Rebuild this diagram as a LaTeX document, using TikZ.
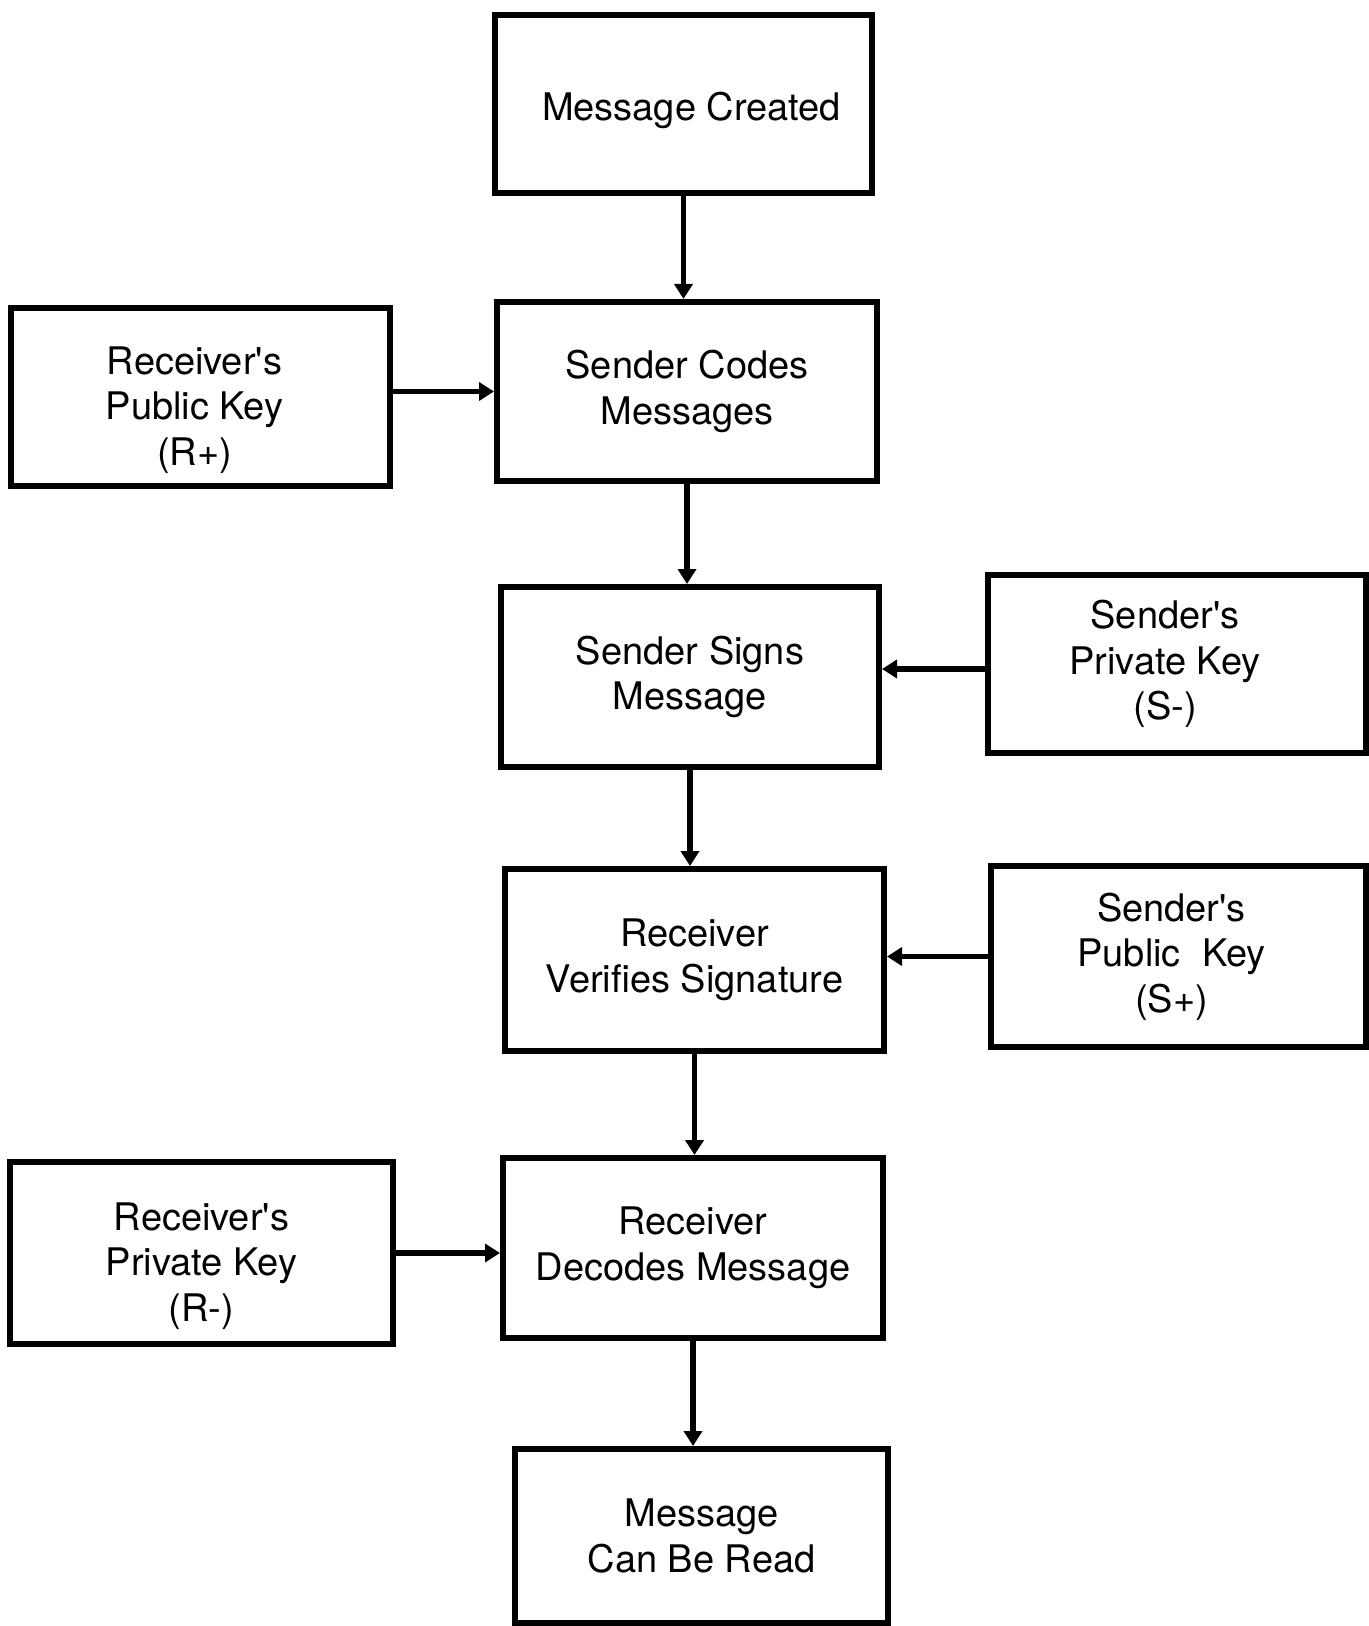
\documentclass[tikz,border=0pt]{standalone}
\usepackage{fontspec}
\setmainfont{TeX Gyre Heros}[Ligatures=TeXOff]
\usetikzlibrary{arrows.meta}
\newcommand{\padtxt}[3]{\parbox{6cm}{\centering\vspace*{#1}#3}\hspace*{#2}}
\begin{document}
\begin{tikzpicture}[x=0.5pt,y=-0.5pt,
  box/.style={draw=black, line width=3pt, fill=white, align=center, inner sep=0pt,
    font=\fontsize{19pt}{22.8pt}\selectfont},
  flow/.style={line width=2.8pt, -{Triangle[length=7.5pt,width=9pt]}}]
\useasboundingbox[fill=white] (0,0) rectangle (1369,1626);
\node[box, minimum width=188.5pt, minimum height=89pt] (mc) at (683.5,104) {\padtxt{6pt}{0pt}{\hspace*{8pt}Message Created}};
\node[box, minimum width=189.5pt, minimum height=89pt] (rpk) at (200.5,397) {\padtxt{13pt}{6pt}{Receiver's\\Public Key\\(R+)}};
\node[box, minimum width=190pt, minimum height=89.5pt] (scm) at (687,391.5) {Sender Codes\\Messages};
\node[box, minimum width=189pt, minimum height=90pt] (ssm) at (690,677) {Sender Signs\\Message};
\node[box, minimum width=189pt, minimum height=89pt] (spk) at (1177,664) {\padtxt{0pt}{12pt}{Sender's\\Private Key\\(S-)}};
\node[box, minimum width=189.5pt, minimum height=91pt] (rvs) at (694.5,960) {Receiver\\Verifies Signature};
\node[box, minimum width=187.5pt, minimum height=90.5pt] (spub) at (1178.5,956.5) {\padtxt{0pt}{7pt}{Sender's\\Public\ \ Key\\(S+)}};
\node[box, minimum width=191.5pt, minimum height=91pt] (rpr) at (201.5,1253) {\padtxt{13pt}{0pt}{Receiver's\\Private Key\\(R-)}};
\node[box, minimum width=190pt, minimum height=90pt] (rdm) at (693,1248) {Receiver\\Decodes Message};
\node[box, minimum width=186.5pt, minimum height=87pt] (mcbr) at (701.5,1536) {Message\\Can Be Read};
\draw[flow] (mc.south) -- (mc.south |- scm.north);
\draw[flow] (scm.south) -- (scm.south |- ssm.north);
\draw[flow] (ssm.south) -- (ssm.south |- rvs.north);
\draw[flow] (rvs.south) -- (rvs.south |- rdm.north);
\draw[flow] (rdm.south) -- (rdm.south |- mcbr.north);
\draw[flow] (scm.west -| rpk.east) -- (scm.west);
\draw[flow] ([yshift=-2.5pt]spk.west) -- ([yshift=-2.5pt]spk.west -| ssm.east);
\draw[flow] (spub.west) -- (spub.west -| rvs.east);
\draw[flow] (rpr.east) -- (rpr.east -| rdm.west);
\end{tikzpicture}
\end{document}
